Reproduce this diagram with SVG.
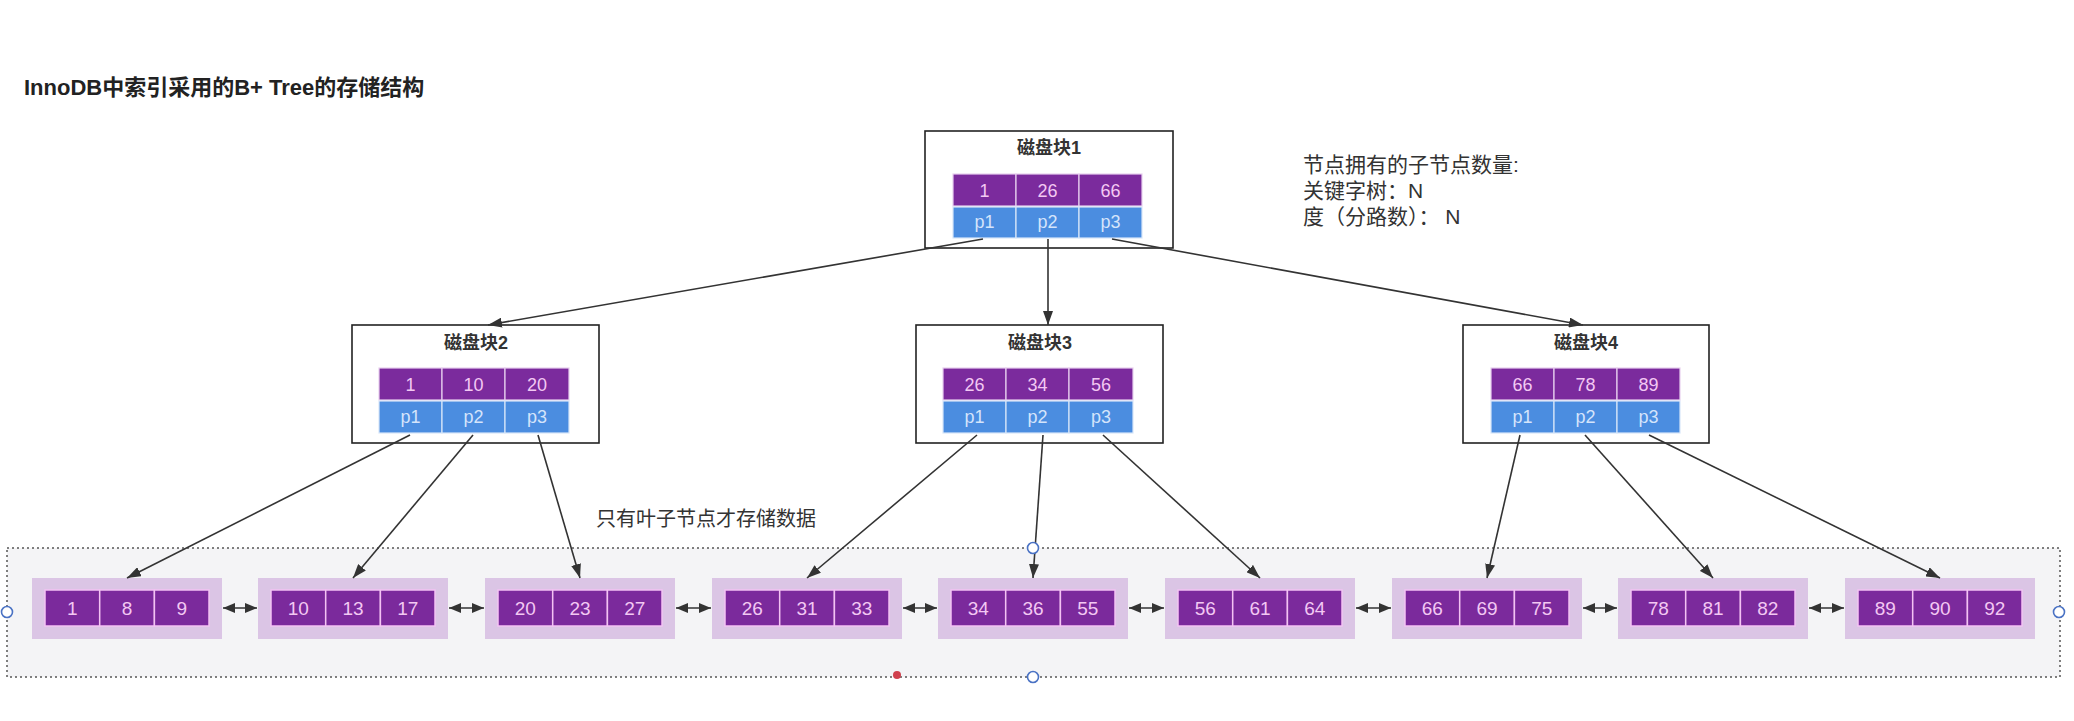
<svg xmlns="http://www.w3.org/2000/svg" width="2074" height="721" viewBox="0 0 2074 721">
<style>
text{font-family:"Liberation Sans","Noto Sans CJK SC",sans-serif;}
.title{font-size:22px;font-weight:bold;fill:#222;}
.note{font-size:21px;fill:#333;}
.box{fill:#fff;stroke:#222;stroke-width:1.6;}
.bt{font-size:18px;font-weight:bold;fill:#333;text-anchor:middle;}
.kc{fill:#7b2b9d;stroke:#e8d0ee;stroke-width:1.2;}
.pc{fill:#4b8de0;stroke:#d8e6f8;stroke-width:1.2;}
.kt{font-size:18px;fill:#f3c8f3;text-anchor:middle;}
.pt{font-size:18px;fill:#d4e4fb;text-anchor:middle;}
.lo{fill:#dbc5e5;}
.lc{fill:#7b2a9c;stroke:#f3c2f3;stroke-width:1.5;}
.lt{font-size:19px;fill:#f3c8f3;text-anchor:middle;}
.ln{stroke:#333;stroke-width:1.6;fill:none;}
.handle{fill:#fff;stroke:#4a72c4;stroke-width:1.6;}
</style>
<defs>
<marker id="ah" viewBox="0 0 14 10" refX="14" refY="5" markerWidth="14" markerHeight="10" markerUnits="userSpaceOnUse" orient="auto">
<path d="M0,0 L14,5 L0,10 z" fill="#333"/>
</marker>
<marker id="dh" viewBox="0 0 12 10" refX="12" refY="5" markerWidth="12" markerHeight="10" markerUnits="userSpaceOnUse" orient="auto-start-reverse">
<path d="M0,0 L12,5 L0,10 z" fill="#333"/>
</marker>
</defs>
<rect x="0" y="0" width="2074" height="721" fill="#fff"/>
<text class="title" x="24" y="95">InnoDB中索引采用的B+ Tree的存储结构</text>
<g id="note">
<text class="note" x="1303" y="172">节点拥有的子节点数量:</text>
<text class="note" x="1303" y="198">关键字树：N</text>
<text class="note" x="1303" y="224">度（分路数）： N</text>
</g>
<g id="leaf-area">
<rect x="7" y="548" width="2053" height="129" fill="#f4f4f6" stroke="#555" stroke-width="1.5" stroke-dasharray="2 3"/>
<text x="596" y="526" style="font-size:20px;fill:#333;">只有叶子节点才存储数据</text>
</g>
<g id="block1" transform="translate(925,131)">
<rect class="box" x="0" y="0" width="248" height="117"/>
<text class="bt" x="124" y="23">磁盘块1</text>
<rect class="kc" x="28" y="43" width="63" height="32"/><rect class="kc" x="91" y="43" width="63" height="32"/><rect class="kc" x="154" y="43" width="63" height="32"/>
<rect class="pc" x="28" y="76" width="63" height="31"/><rect class="pc" x="91" y="76" width="63" height="31"/><rect class="pc" x="154" y="76" width="63" height="31"/>
<text class="kt" x="59.5" y="66">1</text><text class="kt" x="122.5" y="66">26</text><text class="kt" x="185.5" y="66">66</text>
<text class="pt" x="59.5" y="97">p1</text><text class="pt" x="122.5" y="97">p2</text><text class="pt" x="185.5" y="97">p3</text>
</g>
<g id="block2" transform="translate(352,325)">
<rect class="box" x="0" y="0" width="247" height="118"/>
<text class="bt" x="124" y="24">磁盘块2</text>
<rect class="kc" x="27" y="43" width="63" height="32"/><rect class="kc" x="90" y="43" width="63" height="32"/><rect class="kc" x="153" y="43" width="64" height="32"/>
<rect class="pc" x="27" y="76" width="63" height="32"/><rect class="pc" x="90" y="76" width="63" height="32"/><rect class="pc" x="153" y="76" width="64" height="32"/>
<text class="kt" x="58.5" y="66">1</text><text class="kt" x="121.5" y="66">10</text><text class="kt" x="185" y="66">20</text>
<text class="pt" x="58.5" y="98">p1</text><text class="pt" x="121.5" y="98">p2</text><text class="pt" x="185" y="98">p3</text>
</g>
<g id="block3" transform="translate(916,325)">
<rect class="box" x="0" y="0" width="247" height="118"/>
<text class="bt" x="124" y="24">磁盘块3</text>
<rect class="kc" x="27" y="43" width="63" height="32"/><rect class="kc" x="90" y="43" width="63" height="32"/><rect class="kc" x="153" y="43" width="64" height="32"/>
<rect class="pc" x="27" y="76" width="63" height="32"/><rect class="pc" x="90" y="76" width="63" height="32"/><rect class="pc" x="153" y="76" width="64" height="32"/>
<text class="kt" x="58.5" y="66">26</text><text class="kt" x="121.5" y="66">34</text><text class="kt" x="185" y="66">56</text>
<text class="pt" x="58.5" y="98">p1</text><text class="pt" x="121.5" y="98">p2</text><text class="pt" x="185" y="98">p3</text>
</g>
<g id="block4" transform="translate(1463,325)">
<rect class="box" x="0" y="0" width="246" height="118"/>
<text class="bt" x="123" y="24">磁盘块4</text>
<rect class="kc" x="28" y="43" width="63" height="32"/><rect class="kc" x="91" y="43" width="63" height="32"/><rect class="kc" x="154" y="43" width="63" height="32"/>
<rect class="pc" x="28" y="76" width="63" height="32"/><rect class="pc" x="91" y="76" width="63" height="32"/><rect class="pc" x="154" y="76" width="63" height="32"/>
<text class="kt" x="59.5" y="66">66</text><text class="kt" x="122.5" y="66">78</text><text class="kt" x="185.5" y="66">89</text>
<text class="pt" x="59.5" y="98">p1</text><text class="pt" x="122.5" y="98">p2</text><text class="pt" x="185.5" y="98">p3</text>
</g>
<g id="leaf1" transform="translate(32,578)">
<rect class="lo" x="0" y="0" width="190" height="61"/>
<rect class="lc" x="13" y="12" width="54.7" height="36"/><rect class="lc" x="67.7" y="12" width="54.7" height="36"/><rect class="lc" x="122.4" y="12" width="54.6" height="36"/>
<text class="lt" x="40.3" y="37">1</text><text class="lt" x="95" y="37">8</text><text class="lt" x="149.7" y="37">9</text>
</g>
<g id="leaf2" transform="translate(258,578)">
<rect class="lo" x="0" y="0" width="190" height="61"/>
<rect class="lc" x="13" y="12" width="54.7" height="36"/><rect class="lc" x="67.7" y="12" width="54.7" height="36"/><rect class="lc" x="122.4" y="12" width="54.6" height="36"/>
<text class="lt" x="40.3" y="37">10</text><text class="lt" x="95" y="37">13</text><text class="lt" x="149.7" y="37">17</text>
</g>
<g id="leaf3" transform="translate(485,578)">
<rect class="lo" x="0" y="0" width="190" height="61"/>
<rect class="lc" x="13" y="12" width="54.7" height="36"/><rect class="lc" x="67.7" y="12" width="54.7" height="36"/><rect class="lc" x="122.4" y="12" width="54.6" height="36"/>
<text class="lt" x="40.3" y="37">20</text><text class="lt" x="95" y="37">23</text><text class="lt" x="149.7" y="37">27</text>
</g>
<g id="leaf4" transform="translate(712,578)">
<rect class="lo" x="0" y="0" width="190" height="61"/>
<rect class="lc" x="13" y="12" width="54.7" height="36"/><rect class="lc" x="67.7" y="12" width="54.7" height="36"/><rect class="lc" x="122.4" y="12" width="54.6" height="36"/>
<text class="lt" x="40.3" y="37">26</text><text class="lt" x="95" y="37">31</text><text class="lt" x="149.7" y="37">33</text>
</g>
<g id="leaf5" transform="translate(938,578)">
<rect class="lo" x="0" y="0" width="190" height="61"/>
<rect class="lc" x="13" y="12" width="54.7" height="36"/><rect class="lc" x="67.7" y="12" width="54.7" height="36"/><rect class="lc" x="122.4" y="12" width="54.6" height="36"/>
<text class="lt" x="40.3" y="37">34</text><text class="lt" x="95" y="37">36</text><text class="lt" x="149.7" y="37">55</text>
</g>
<g id="leaf6" transform="translate(1165,578)">
<rect class="lo" x="0" y="0" width="190" height="61"/>
<rect class="lc" x="13" y="12" width="54.7" height="36"/><rect class="lc" x="67.7" y="12" width="54.7" height="36"/><rect class="lc" x="122.4" y="12" width="54.6" height="36"/>
<text class="lt" x="40.3" y="37">56</text><text class="lt" x="95" y="37">61</text><text class="lt" x="149.7" y="37">64</text>
</g>
<g id="leaf7" transform="translate(1392,578)">
<rect class="lo" x="0" y="0" width="190" height="61"/>
<rect class="lc" x="13" y="12" width="54.7" height="36"/><rect class="lc" x="67.7" y="12" width="54.7" height="36"/><rect class="lc" x="122.4" y="12" width="54.6" height="36"/>
<text class="lt" x="40.3" y="37">66</text><text class="lt" x="95" y="37">69</text><text class="lt" x="149.7" y="37">75</text>
</g>
<g id="leaf8" transform="translate(1618,578)">
<rect class="lo" x="0" y="0" width="190" height="61"/>
<rect class="lc" x="13" y="12" width="54.7" height="36"/><rect class="lc" x="67.7" y="12" width="54.7" height="36"/><rect class="lc" x="122.4" y="12" width="54.6" height="36"/>
<text class="lt" x="40.3" y="37">78</text><text class="lt" x="95" y="37">81</text><text class="lt" x="149.7" y="37">82</text>
</g>
<g id="leaf9" transform="translate(1845,578)">
<rect class="lo" x="0" y="0" width="190" height="61"/>
<rect class="lc" x="13" y="12" width="54.7" height="36"/><rect class="lc" x="67.7" y="12" width="54.7" height="36"/><rect class="lc" x="122.4" y="12" width="54.6" height="36"/>
<text class="lt" x="40.3" y="37">89</text><text class="lt" x="95" y="37">90</text><text class="lt" x="149.7" y="37">92</text>
</g>
<g id="connectors">
<line class="ln" x1="983" y1="239" x2="488" y2="325" marker-end="url(#ah)"/>
<line class="ln" x1="1048" y1="239" x2="1048" y2="325" marker-end="url(#ah)"/>
<line class="ln" x1="1112" y1="239" x2="1583" y2="325" marker-end="url(#ah)"/>
<line class="ln" x1="410" y1="435" x2="127" y2="578" marker-end="url(#ah)"/>
<line class="ln" x1="473" y1="435" x2="353" y2="578" marker-end="url(#ah)"/>
<line class="ln" x1="538" y1="435" x2="580" y2="578" marker-end="url(#ah)"/>
<line class="ln" x1="977" y1="435" x2="807" y2="578" marker-end="url(#ah)"/>
<line class="ln" x1="1043" y1="435" x2="1033" y2="578" marker-end="url(#ah)"/>
<line class="ln" x1="1103" y1="435" x2="1260" y2="578" marker-end="url(#ah)"/>
<line class="ln" x1="1520" y1="435" x2="1487" y2="578" marker-end="url(#ah)"/>
<line class="ln" x1="1585" y1="435" x2="1713" y2="578" marker-end="url(#ah)"/>
<line class="ln" x1="1649" y1="435" x2="1940" y2="578" marker-end="url(#ah)"/>
<line class="ln" x1="223" y1="608" x2="257" y2="608" marker-start="url(#dh)" marker-end="url(#dh)"/>
<line class="ln" x1="449" y1="608" x2="484" y2="608" marker-start="url(#dh)" marker-end="url(#dh)"/>
<line class="ln" x1="676" y1="608" x2="711" y2="608" marker-start="url(#dh)" marker-end="url(#dh)"/>
<line class="ln" x1="903" y1="608" x2="937" y2="608" marker-start="url(#dh)" marker-end="url(#dh)"/>
<line class="ln" x1="1129" y1="608" x2="1164" y2="608" marker-start="url(#dh)" marker-end="url(#dh)"/>
<line class="ln" x1="1356" y1="608" x2="1391" y2="608" marker-start="url(#dh)" marker-end="url(#dh)"/>
<line class="ln" x1="1583" y1="608" x2="1617" y2="608" marker-start="url(#dh)" marker-end="url(#dh)"/>
<line class="ln" x1="1809" y1="608" x2="1844" y2="608" marker-start="url(#dh)" marker-end="url(#dh)"/>
</g>
<g id="handles">
<circle class="handle" cx="7" cy="612" r="5.5"/>
<circle class="handle" cx="2059" cy="612" r="5.5"/>
<circle class="handle" cx="1033" cy="548" r="5.5"/>
<circle class="handle" cx="1033" cy="677" r="5.5"/>
<circle cx="897" cy="675" r="4" fill="#d0404e"/>
</g>
</svg>
